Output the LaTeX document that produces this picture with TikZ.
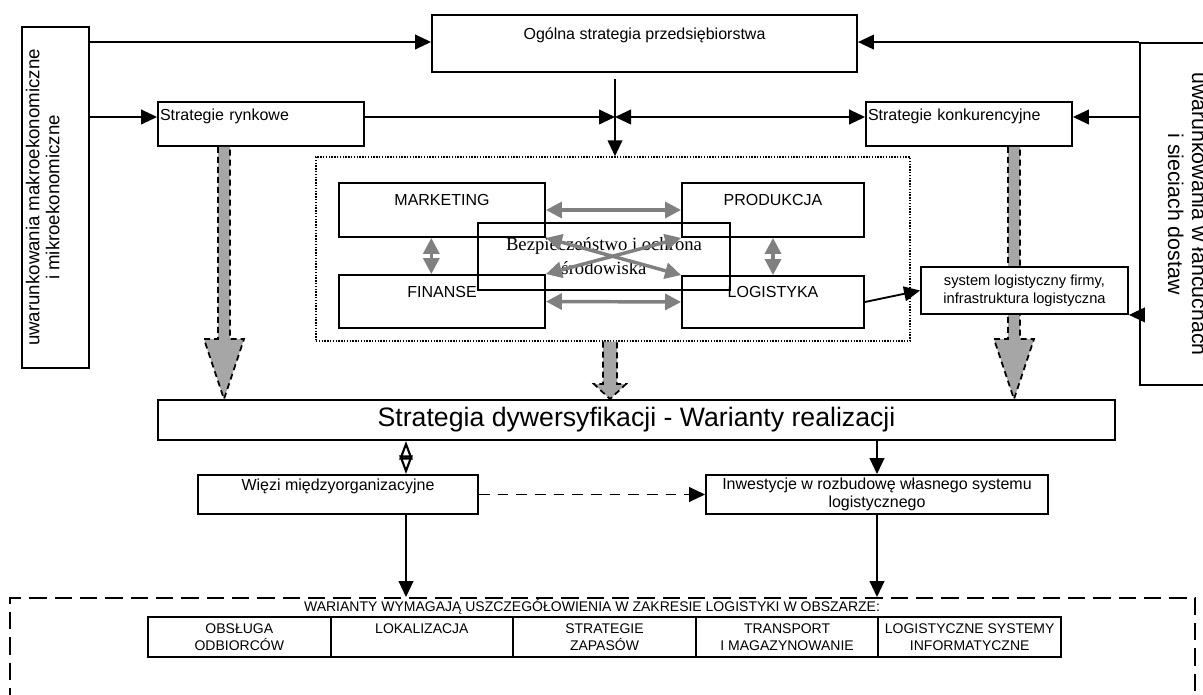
\documentclass[tikz,border=0pt]{standalone}
\usepackage{graphicx}
\usepackage{fontspec}
\setmainfont{Liberation Sans}
\newfontfamily\szeryf{Liberation Serif}
\usepackage{tikz}
\usetikzlibrary{arrows.meta, calc, positioning}

% szeroka szara strzalka z przerywanym konturem
\newcommand{\grubastrz}[5]{%
	\draw[gruba] ($(#1)+(-#5,0)$) -- ($(#2)+(-#5,-#3)$) -- ($(#2)+(-#4,-#3)$)
	-- (#2) -- ($(#2)+(#4,-#3)$) -- ($(#2)+(#5,-#3)$) -- ($(#1)+(#5,0)$);%
}

\begin{document}
\begin{tikzpicture}[
		x=0.75pt, y=-0.75pt,
		font=\fontsize{12pt}{14.5pt}\selectfont,
		pole/.style={
			rectangle,
			draw,
			line width=1.4pt,
			inner sep=0pt,
			align=center
		},
		rozm/.style 2 args={
			minimum width=#1*0.75pt,
			minimum height=#2*0.75pt
		},
		komorka/.style={
			pole,
			rozm={182.6}{40},
			outer sep=0pt,
			font=\fontsize{10.5pt}{12.75pt}\selectfont
		},
		kropki/.style={
			rectangle,
			draw,
			line width=1.1pt,
			dash pattern=on 1pt off 1.1pt
		},
		kreski/.style={
			rectangle,
			draw,
			line width=1.4pt,
			dash pattern=on 13pt off 6pt
		},
		strz/.style={
			line width=1.4pt,
			-{Triangle[length=12pt, width=11pt]}
		},
		strzobie/.style={
			line width=1.4pt,
			{Triangle[length=12pt, width=11pt]}-{Triangle[length=12pt, width=11pt]}
		},
		romb/.style={
			line width=1.6pt,
			{Triangle[open, length=14pt, width=10pt]}-{Triangle[open, length=14pt, width=10pt]}
		},
		szara/.style={
			draw=black!50,
			line width=2.6pt,
			{Triangle[length=12pt, width=12pt]}-{Triangle[length=12pt, width=12pt]}
		},
		gruba/.style={
			fill=black!35,
			draw,
			line width=1.3pt,
			dash pattern=on 4.5pt off 3pt
		}
	]
	
	\clip (0,0) rectangle (1203,695);
	
	% Uwarunkowania zewnetrzne
	\node[pole, rozm={67}{341}] (lewy) at (55.5,197.5)
	{\rotatebox{90}{\fontsize{14pt}{15pt}\selectfont
			\begin{tabular}{@{}c@{}}uwarunkowania makroekonomiczne\\i mikroekonomiczne\\~\end{tabular}}};
	
	\node[pole, rozm={90}{342}] (prawy) at (1185,214)
	{\rotatebox{-90}{\fontsize{16pt}{18pt}\selectfont
			\begin{tabular}{@{}c@{}}uwarunkowania w łańcuchach\\i sieciach dostaw\end{tabular}}};
	
	% Strategie
	\node[pole, rozm={425}{57}] (ogolna) at (644.5,43.5)
	{Ogólna strategia przedsiębiorstwa\\~};
	
	\node[pole, rozm={206}{44}, text width=151.5pt, inner xsep=1.5pt, align=left] (rynk) at (261,124)
	{Strategie rynkowe\\~};
	
	\node[pole, rozm={206}{44}, text width=151.5pt, inner xsep=1.5pt, align=left] (konk) at (969,124)
	{Strategie konkurencyjne\\~};
	
	% Obszary funkcjonalne
	\node[kropki, rozm={594}{184}] (dzialy) at (613,249) {};
	
	\node[pole, rozm={206}{54}] (mark) at (442,210) {MARKETING\\~};
	\node[pole, rozm={182}{54}] (prod) at (773,210) {PRODUKCJA\\~};
	\node[pole, rozm={206}{53}] (fin) at (442,301.5) {FINANSE\\~};
	\node[pole, rozm={182}{52}] (log) at (773,302) {LOGISTYKA\\~};
	
	\node[pole, rozm={252}{67}, font=\szeryf\fontsize{14pt}{18pt}\selectfont] (bezp) at (604,256.5)
	{Bezpieczeństwo i ochrona\\środowiska};
	
	\draw[szara] (mark.east) -- (prod.west);
	\draw[szara] (fin.east) -- (log.west);
	\draw[szara] ([xshift=-8pt]mark.south) -- ([xshift=-8pt]fin.north);
	\draw[szara] (prod.south) -- (log.north);
	\draw[szara] (mark.south east) -- (log.north west);
	\draw[szara] (fin.north east) -- (prod.south west);
	
	% Strategia dywersyfikacji
	\node[pole, rozm={957}{40}, font=\fontsize{20pt}{24pt}\selectfont] (dyw) at (636.5,420)
	{Strategia dywersyfikacji - Warianty realizacji};
	
	\coordinate (s1) at (224,0);
	\coordinate (s2) at (610,0);
	\coordinate (s3) at (1014,0);
	\grubastrz{rynk.south -| s1}{dyw.north -| s1}{60}{20}{6}
	\grubastrz{dzialy.south -| s2}{dyw.north -| s2}{15}{16}{7}
	\grubastrz{konk.south -| s3}{dyw.north -| s3}{60}{20}{6}
	
	\node[pole, fill=white, rozm={207}{47}, font=\fontsize{11pt}{13.5pt}\selectfont] (sys) at (1024.5,290.5)
	{system logistyczny firmy,\\infrastruktura logistyczna};
	
	% Polaczenia gorne
	\coordinate (p1) at (0,42);
	\coordinate (p2) at (0,117);
	\coordinate (wezel) at (615,117);
	
	\draw[strz] (lewy.east |- p1) -- (ogolna.west |- p1);
	\draw[strz] (lewy.east |- p2) -- (rynk.west |- p2);
	\draw[strz] (rynk.east |- p2) -- (wezel);
	\draw[strzobie] (wezel) -- (konk.west |- p2);
	\draw[strz, shorten <=4.5pt] (wezel |- ogolna.south) -- (wezel |- dzialy.north);
	\draw[strz] (prawy.north west) -- (ogolna.east |- prawy.north west);
	\draw[strz] (prawy.west |- p2) -- (konk.east |- p2);
	\draw[strz] (prawy.west |- sys.south) -- (sys.south east);
	\draw[strz] (log.east) -- (sys.west);
	
	% Warianty realizacji
	\node[pole, rozm={280}{39}] (wiezi) at (338,494.5)
	{Więzi międzyorganizacyjne\\~};
	
	\node[pole, rozm={342}{39}, font=\fontsize{12pt}{13.5pt}\selectfont] (inw) at (877,494.5)
	{Inwestycje w rozbudowę własnego systemu\\logistycznego};
	
	\coordinate (w1) at (406,0);
	\draw[romb] (dyw.south -| w1) -- (wiezi.north -| w1);
	\draw[strz] (dyw.south -| inw.north) -- (inw.north);
	\draw[strz, dash pattern=on 8pt off 6pt] (wiezi.east) -- (inw.west);
	
	% Obszary logistyki
	\node[kreski, rozm={1185}{124}] (zakres) at (602.5,660) {};
	
	\node[anchor=base, font=\fontsize{10.5pt}{12.5pt}\selectfont] (tytul) at (592,611)
	{WARIANTY WYMAGAJĄ USZCZEGÓŁOWIENIA W ZAKRESIE LOGISTYKI W OBSZARZE:};
	
	\node[komorka] (k1) at (239.3,637) {OBSŁUGA\\ODBIORCÓW};
	\node[komorka, right=0pt of k1] (k2) {LOKALIZACJA\\~};
	\node[komorka, right=0pt of k2] (k3) {STRATEGIE\\ZAPASÓW};
	\node[komorka, right=0pt of k3] (k4) {TRANSPORT\\I MAGAZYNOWANIE};
	\node[komorka, right=0pt of k4] (k5) {LOGISTYCZNE SYSTEMY\\INFORMATYCZNE};
	
	\draw[strz] (wiezi.south -| w1) -- (zakres.north -| w1);
	\draw[strz] (inw.south) -- (zakres.north -| inw.south);
	
\end{tikzpicture}
\end{document}
